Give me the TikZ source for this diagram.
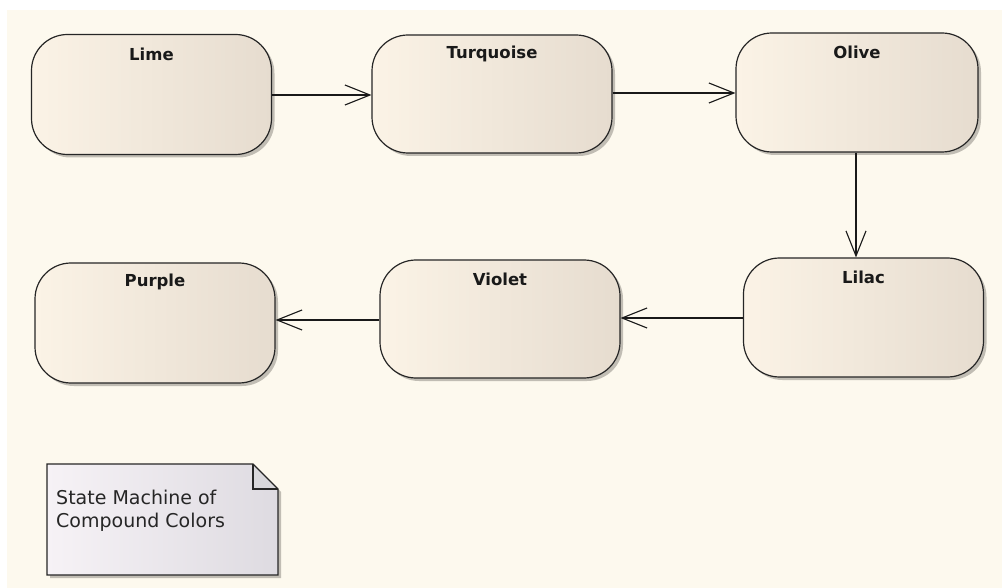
\documentclass[tikz,border=0pt]{standalone}
\usepackage{fontspec}
\setmainfont{DejaVu Sans}
\usetikzlibrary{arrows.meta,shadows}
\definecolor{bgcream}{HTML}{FDF9EE}
\definecolor{stL}{HTML}{FBF3E6}
\definecolor{stR}{HTML}{E6DCCF}
\definecolor{ntL}{HTML}{F6F2F6}
\definecolor{ntR}{HTML}{DEDBE1}
\definecolor{fold}{HTML}{D9D8DC}
\definecolor{shadowc}{HTML}{A8A49C}
\tikzset{
  statebox/.style={draw=black!85, line width=1.2pt, rounded corners=36pt,
    minimum width=240pt, minimum height=#1, inner sep=0pt,
    left color=stL, right color=stR,
    drop shadow={shadow xshift=3pt, shadow yshift=-3pt, fill=shadowc, opacity=0.7}},
  statebox/.default=119pt,
  titletext/.style={font=\bfseries\fontsize{16.5}{20}\selectfont, text=black!90, inner sep=0pt},
  trans/.style={line width=1.1pt, draw=black!90, -{Straight Barb[length=25pt, width=20pt, line width=1.1pt]}},
}
\begin{document}
\begin{tikzpicture}[x=1pt, y=-1pt]
\useasboundingbox (0,0) rectangle (1002,588);
\fill[bgcream] (7,10) rectangle (1002,588);

\node[statebox=120pt] (lime) at (151.5,94.5) {};
\node[statebox=118pt] (turq) at (492,94) {};
\node[statebox=119pt, minimum width=242pt] (olive) at (857,92.5) {};
\node[statebox=119pt, minimum width=240pt] (lilac) at (863.5,317.5) {};
\node[statebox=118pt] (violet) at (500,319) {};
\node[statebox=120pt] (purple) at (155,323) {};

\node[titletext] (tlime) at ([yshift=-20pt]lime.north) {Lime};
\node[titletext] (tturq) at ([yshift=-20pt]turq.north) {Turquoise};
\node[titletext] (tolive) at ([yshift=-20pt]olive.north) {Olive};
\node[titletext] (tlilac) at ([yshift=-20pt]lilac.north) {Lilac};
\node[titletext] (tviolet) at ([yshift=-20pt]violet.north) {Violet};
\node[titletext] (tpurple) at ([yshift=-20pt]purple.north) {Purple};

\coordinate (a1) at (lime.east |- 0,95);
\coordinate (a2) at (turq.west |- 0,95);
\draw[trans] (a1) -- (a2);
\coordinate (b1) at (turq.east |- 0,93);
\coordinate (b2) at (olive.west |- 0,93);
\draw[trans] (b1) -- (b2);
\coordinate (c1) at (856,0 |- olive.south);
\coordinate (c2) at (856,0 |- lilac.north);
\draw[trans] (c1) -- (c2);
\coordinate (d1) at (lilac.west |- 0,318);
\coordinate (d2) at (violet.east |- 0,318);
\draw[trans] (d1) -- (d2);
\coordinate (e1) at (violet.west |- 0,320);
\coordinate (e2) at (purple.east |- 0,320);
\draw[trans] (e1) -- (e2);

% note
\fill[shadowc, opacity=0.7] (50,467) -- (256,467) -- (281,492) -- (281,578) -- (50,578) -- cycle;
\path[left color=ntL, right color=ntR] (47,464) -- (253,464) -- (278,489) -- (278,575) -- (47,575) -- cycle;
\fill[fold] (253,464) -- (278,489) -- (253,489) -- cycle;
\draw[line width=1.2pt, black!85] (47,464) -- (253,464) -- (278,489) -- (278,575) -- (47,575) -- cycle;
\draw[line width=1.2pt, black!85] (253,464) -- (253,489) -- (278,489);
\node[anchor=base west, inner sep=0pt, align=left, font=\fontsize{19}{23}\selectfont, text=black!85] (notetext) at (56,527) {State Machine of\\Compound Colors};
\end{tikzpicture}
\end{document}
